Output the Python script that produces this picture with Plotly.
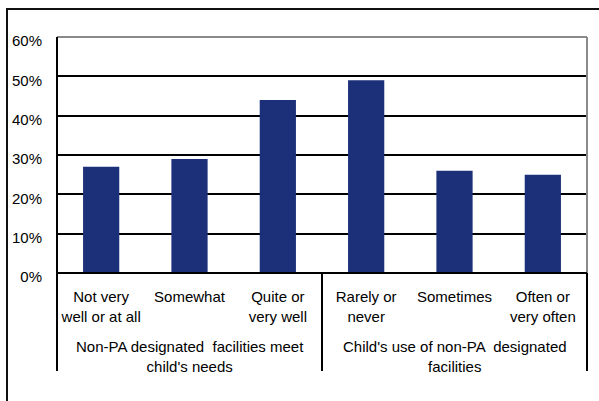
import plotly.graph_objects as go

categories = ["Not very<br>well or at all", "Somewhat", "Quite or<br>very well",
              "Rarely or<br>never", "Sometimes", "Often or<br>very often"]
values = [27, 29, 44, 49, 26, 25]
groups = ["Non-PA designated  facilities meet<br>child's needs",
          "Child's use of non-PA  designated<br>facilities"]
y_ticks = [0, 10, 20, 30, 40, 50, 60]

W, H = 599, 401
L, R, T, B = 57, 587, 37, 273
pw, ph = R - L, B - T

def px(x):
    return (x - L) / pw

def py(y):
    return (B - y) / ph

FONT = "Liberation Sans, Arial, sans-serif"
FS = 15

fig = go.Figure()
fig.add_trace(go.Bar(x=list(range(len(categories))), y=values,
                     marker=dict(color="#1b3079", line=dict(width=0)),
                     width=0.41))

shapes = []
# outer border (clipped on right/bottom)
shapes.append(dict(type="rect", xref="paper", yref="paper",
                   x0=px(7), y0=py(430), x1=px(640), y1=py(9),
                   line=dict(color="#111", width=2), fillcolor="rgba(0,0,0,0)"))
# plot border top & right (gray)
shapes.append(dict(type="line", xref="paper", yref="paper", x0=0, x1=1, y0=1, y1=1,
                   line=dict(color="#8a8a8a", width=2)))
shapes.append(dict(type="line", xref="paper", yref="paper", x0=1, x1=1, y0=0, y1=1,
                   line=dict(color="#8a8a8a", width=2)))
# left axis extended down
shapes.append(dict(type="line", xref="paper", yref="paper", x0=0, x1=0, y0=py(371), y1=1,
                   line=dict(color="#000", width=2)))
# group separators
shapes.append(dict(type="line", xref="paper", yref="paper", x0=0.5, x1=0.5, y0=py(371), y1=0,
                   line=dict(color="#000", width=2)))
shapes.append(dict(type="line", xref="paper", yref="paper", x0=1, x1=1, y0=py(371), y1=0,
                   line=dict(color="#000", width=2)))
# zero line
shapes.append(dict(type="line", xref="paper", yref="paper", x0=0, x1=1, y0=0, y1=0,
                   line=dict(color="#000", width=2)))

annotations = []
for i, g in enumerate(groups):
    annotations.append(dict(text=g.replace("  ", " &nbsp;"), xref="paper", yref="paper",
                            x=0.25 + 0.5 * i, y=py(356), xanchor="center", yanchor="middle",
                            showarrow=False, font=dict(family=FONT, size=FS, color="#000")))

fig.update_layout(
    width=W, height=H,
    margin=dict(l=L, r=W - R, t=T, b=H - B, pad=0),
    paper_bgcolor="white", plot_bgcolor="white",
    showlegend=False,
    font=dict(family=FONT, size=FS, color="#000"),
    shapes=shapes, annotations=annotations,
    xaxis=dict(tickmode="array", tickvals=list(range(len(categories))), ticktext=categories,
               range=[-0.5, len(categories) - 0.5], showgrid=False, zeroline=False,
               showline=False, ticks="", ticklabelstandoff=13),
    yaxis=dict(range=[0, 60], tickvals=y_ticks, ticktext=[f"{v}%" for v in y_ticks],
               showgrid=True, gridcolor="#000", gridwidth=1.5, zeroline=False,
               showline=False, ticks="", ticklabelstandoff=14, ticklabelshift=4),
)

fig.write_html("out.html")
